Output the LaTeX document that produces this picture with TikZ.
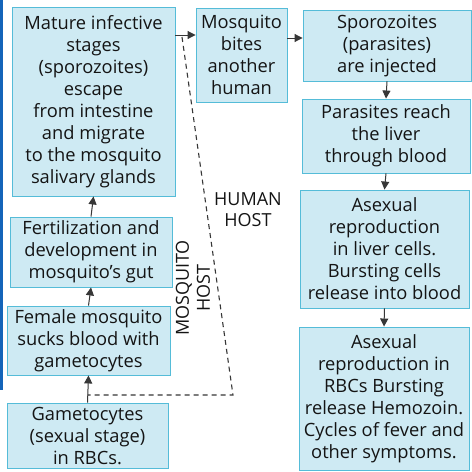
\documentclass[tikz,border=0pt]{standalone}
\usepackage{fontspec}
\setmainfont{Open Sans}
\usepackage{tikz}
\usetikzlibrary{arrows.meta}

\definecolor{boxfill}{RGB}{206,234,243}
\definecolor{boxline}{RGB}{85,188,216}
\definecolor{arrowgray}{RGB}{55,55,55}
\definecolor{edgeblue}{RGB}{20,100,185}

\tikzset{
    stage/.style={draw=boxline, fill=boxfill, line width=0.9pt, align=center,
        inner sep=0pt, text=black!92,
        font=\fontsize{18.3}{22}\selectfont},
    flow/.style={draw=arrowgray, line width=1pt,
        -{Triangle[length=8pt,width=8pt]}},
    hostlabel/.style={align=center, font=\fontsize{18}{21}\selectfont, text=black!92}
}

\begin{document}
\begin{tikzpicture}[x=1pt,y=-1pt]

\useasboundingbox (0,0) rectangle (472,472);
\fill[white] (0,0) rectangle (472,472);

% Page edge
\fill[edgeblue] (0,0) rectangle (3,390);

% Mosquito side
\node[stage, minimum width=163pt, minimum height=189pt] (escape) at (93.5,101.5)
    {Mature infective\\stages\\(sporozoites)\\escape\\from intestine\\and migrate\\to the mosquito\\salivary glands};
\node[stage, minimum width=162pt, minimum height=70pt] (fert) at (91,252)
    {Fertilization and\\development in\\mosquito’s gut};
\node[stage, minimum width=163pt, minimum height=69pt] (sucks) at (88.5,340.5)
    {Female mosquito\\sucks blood with\\gametocytes};
\node[stage, minimum width=161pt, minimum height=65pt] (gameto) at (87.5,435.5)
    {Gametocytes\\(sexual stage)\\in RBCs.};

% Bite
\node[stage, minimum width=91pt, minimum height=94pt] (bite) at (241.5,55)
    {Mosquito\\bites\\another\\human};

% Human side
\node[stage, minimum width=168pt, minimum height=71pt] (inject) at (387,45.5)
    {Sporozoites\\(parasites)\\are injected};
\node[stage, minimum width=168pt, minimum height=74pt] (liver) at (386,136)
    {Parasites reach\\the liver\\through blood};
\node[stage, minimum width=169pt, minimum height=118pt] (livercells) at (384.5,249)
    {Asexual\\reproduction\\in liver cells.\\Bursting cells\\release into blood};
\node[stage, minimum width=170pt, minimum height=143pt] (rbc) at (384,398.5)
    {Asexual\\reproduction in\\RBCs Bursting\\release Hemozoin.\\Cycles of fever and\\other symptoms.};

% Arrows
\draw[flow] (gameto.north) -- (sucks.south);
\draw[flow] (sucks.north) -- (fert.south);
\draw[flow] (fert.north) -- (escape.south);
\draw[flow] (escape.east |- 0,35) -- (bite.west |- 0,35);
\draw[flow] (bite.east |- 0,38) -- (inject.west |- 0,38);
\draw[flow] (inject.south) -- (liver.north);
\draw[flow] (liver.south) -- (livercells.north);
\draw[flow] (livercells.south) -- (rbc.north);

% Host boundary
\coordinate (dtop) at (182,37);
\coordinate (dcorner) at (233,395);
\draw[line width=1.1pt, arrowgray, dash pattern=on 5pt off 4pt] (dtop) -- (dcorner) -- (gameto.north |- dcorner);

\node[hostlabel] (human) at (248,210) {HUMAN\\HOST};
\node[hostlabel, rotate=90] (mosq) at (193,288) {MOSQUITO\\HOST};

\end{tikzpicture}
\end{document}
